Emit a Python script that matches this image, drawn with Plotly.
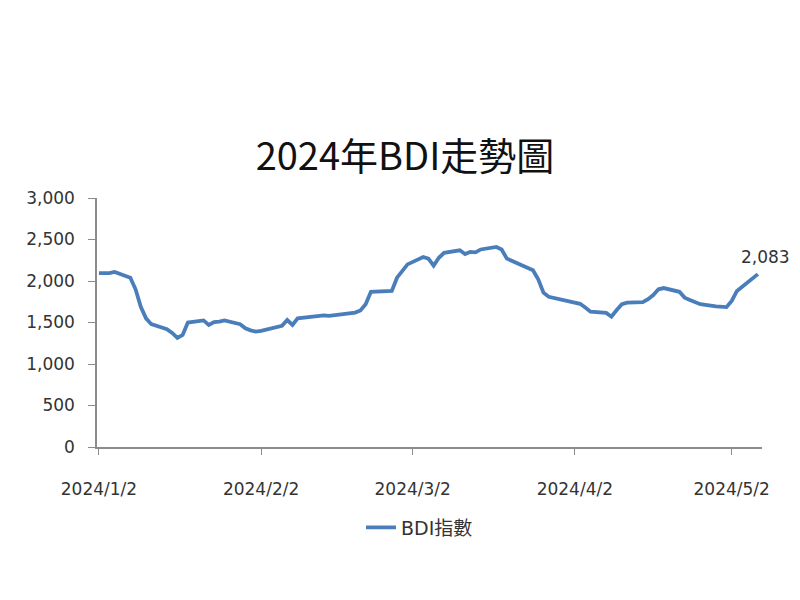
"""Plotly recreation of the 2024 BDI trend chart."""

import plotly.graph_objects as go

# trading days (Baltic Exchange) and BDI closes
dates = [
    "2024-01-02", "2024-01-03", "2024-01-04", "2024-01-05",
    "2024-01-08", "2024-01-09", "2024-01-10", "2024-01-11", "2024-01-12",
    "2024-01-15", "2024-01-16", "2024-01-17", "2024-01-18", "2024-01-19",
    "2024-01-22", "2024-01-23", "2024-01-24", "2024-01-25", "2024-01-26",
    "2024-01-29", "2024-01-30", "2024-01-31", "2024-02-01", "2024-02-02",
    "2024-02-05", "2024-02-06", "2024-02-07", "2024-02-08", "2024-02-09",
    "2024-02-12", "2024-02-13", "2024-02-14", "2024-02-15", "2024-02-16",
    "2024-02-19", "2024-02-20", "2024-02-21", "2024-02-22", "2024-02-23",
    "2024-02-26", "2024-02-27", "2024-02-28", "2024-02-29", "2024-03-01",
    "2024-03-04", "2024-03-05", "2024-03-06", "2024-03-07", "2024-03-08",
    "2024-03-11", "2024-03-12", "2024-03-13", "2024-03-14", "2024-03-15",
    "2024-03-18", "2024-03-19", "2024-03-20", "2024-03-21", "2024-03-22",
    "2024-03-25", "2024-03-26", "2024-03-27", "2024-03-28",
    "2024-04-02", "2024-04-03", "2024-04-04", "2024-04-05",
    "2024-04-08", "2024-04-09", "2024-04-10", "2024-04-11", "2024-04-12",
    "2024-04-15", "2024-04-16", "2024-04-17", "2024-04-18", "2024-04-19",
    "2024-04-22", "2024-04-23", "2024-04-24", "2024-04-25", "2024-04-26",
    "2024-04-29", "2024-04-30", "2024-05-01", "2024-05-02", "2024-05-03",
    "2024-05-07",
]
bdi = [
    2094, 2094, 2095, 2110,
    2040, 1900, 1690, 1550, 1480,
    1420, 1375, 1315, 1350, 1500,
    1525, 1470, 1505, 1510, 1525,
    1480, 1430, 1405, 1390, 1400,
    1440, 1460, 1530, 1470, 1550,
    1575, 1580, 1585, 1580, 1590,
    1615, 1620, 1645, 1720, 1870,
    1875, 1880, 2040, 2120, 2200,
    2290, 2270, 2185, 2280, 2340,
    2370, 2325, 2350, 2345, 2380,
    2410, 2380, 2270, 2240, 2210,
    2130, 2020, 1860, 1810,
    1730, 1725, 1680, 1630,
    1615, 1570, 1650, 1720, 1740,
    1745, 1780, 1830, 1900, 1915,
    1870, 1800, 1770, 1740, 1720,
    1695, 1690, 1685, 1760, 1880,
    2083,
]

x_tick_dates = ["2024-01-02", "2024-02-02", "2024-03-02", "2024-04-02", "2024-05-02"]
x_tick_labels = ["2024/1/2", "2024/2/2", "2024/3/2", "2024/4/2", "2024/5/2"]
y_ticks = [0, 500, 1000, 1500, 2000, 2500, 3000]

LINE_COLOR = "#4a7ebb"
AXIS_COLOR = "#8c8c8c"
TEXT_COLOR = "#333333"
TICK_FONT = dict(family="DejaVu Sans, Liberation Sans", size=17, color=TEXT_COLOR)

fig = go.Figure()

fig.add_trace(
    go.Scatter(
        x=dates,
        y=bdi,
        mode="lines",
        line=dict(color=LINE_COLOR, width=3.8),
        name="BDI指數",
    )
)

# label on the last point
fig.add_annotation(
    x=dates[-1],
    y=bdi[-1],
    text=f"{bdi[-1]:,}",
    showarrow=False,
    xshift=8,
    yshift=17,
    font=TICK_FONT,
)

# the page has an 8px body margin, so the figure is laid out 8px up/left
fig.update_layout(
    width=800,
    height=600,
    paper_bgcolor="white",
    plot_bgcolor="white",
    margin=dict(l=89, r=46, t=190, b=161),
    title=dict(
        text="2024年BDI走勢圖",
        x=(405 - 8) / 800,
        xanchor="center",
        y=1 - 149 / 600,
        yanchor="middle",
        font=dict(family="Noto Sans CJK TC", size=38, color="#111111"),
    ),
    showlegend=True,
    legend=dict(
        orientation="h",
        x=388 / 800,
        xanchor="center",
        y=-0.323,
        yanchor="middle",
        font=dict(family="DejaVu Sans, Noto Sans CJK TC", size=19, color=TEXT_COLOR),
    ),
)

fig.update_xaxes(
    type="date",
    range=["2024-01-01 15:00", "2024-05-07 19:00"],
    tickvals=x_tick_dates,
    ticktext=x_tick_labels,
    ticks="outside",
    ticklen=6,
    tickcolor=AXIS_COLOR,
    ticklabelstandoff=20,
    showline=True,
    linecolor=AXIS_COLOR,
    linewidth=1.5,
    showgrid=False,
    zeroline=False,
    tickfont=TICK_FONT,
)

fig.update_yaxes(
    range=[0, 3000],
    tickvals=y_ticks,
    tickformat=",d",
    ticks="outside",
    ticklen=7,
    tickcolor=AXIS_COLOR,
    ticklabelstandoff=10,
    showline=True,
    linecolor=AXIS_COLOR,
    linewidth=1.5,
    showgrid=False,
    zeroline=False,
    tickfont=TICK_FONT,
)

fig.write_html("out.html")
